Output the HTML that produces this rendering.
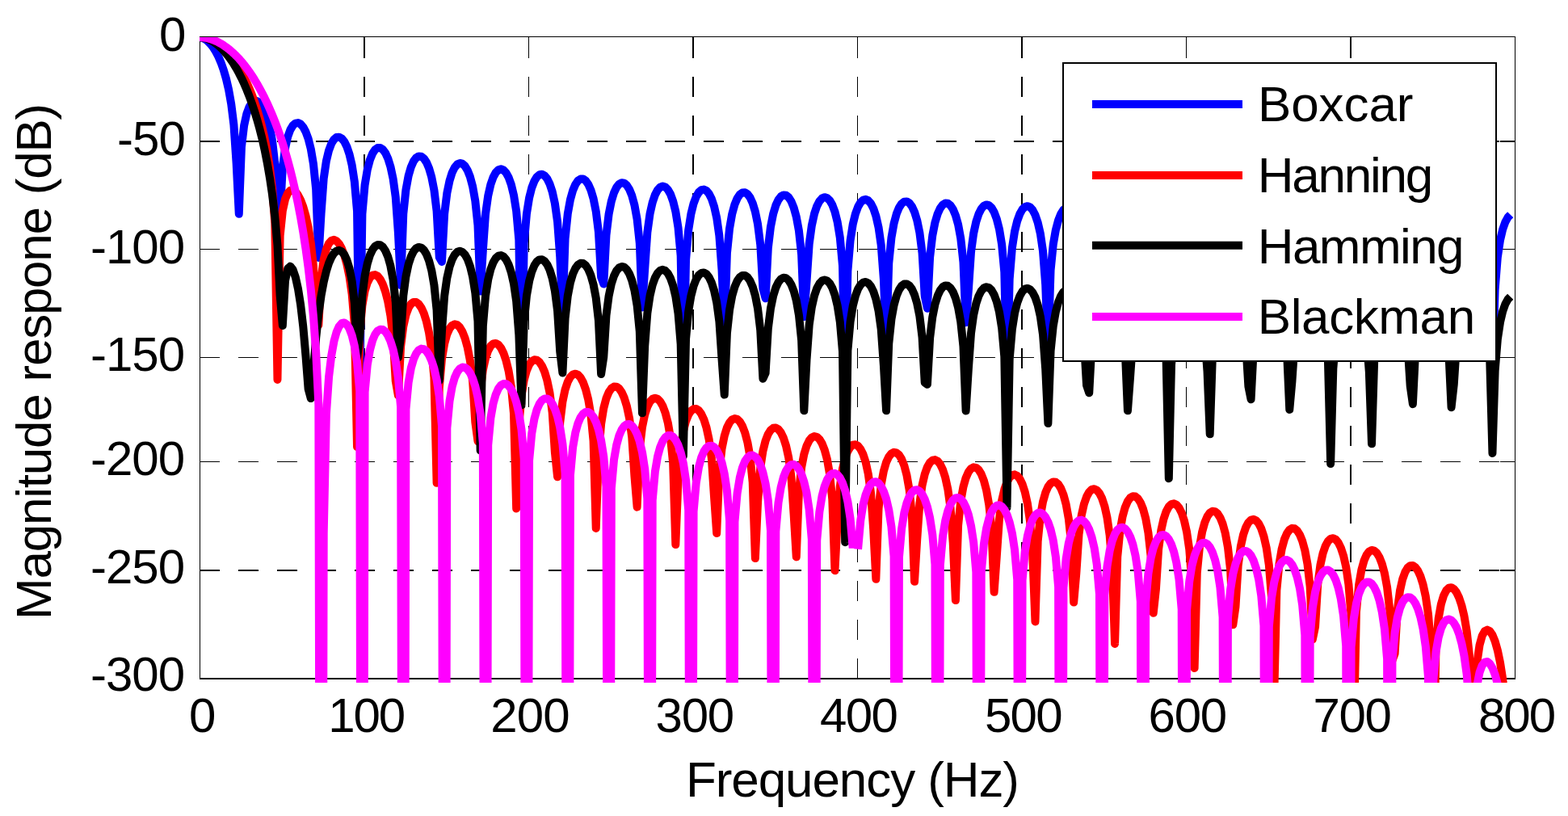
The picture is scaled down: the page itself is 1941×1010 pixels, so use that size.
<!DOCTYPE html>
<html><head><meta charset="utf-8"><title>Magnitude response</title>
<style>html,body{margin:0;padding:0;background:#fff;width:1941px;height:1010px;overflow:hidden}svg{display:block}</style>
</head><body>
<svg width="1941" height="1010" viewBox="0 0 1941 1010">
<defs><clipPath id="c"><rect x="247" y="46" width="1633" height="799"/></clipPath></defs>
<rect x="0" y="0" width="1941" height="1010" fill="#fff"/>
<g stroke="#000" stroke-dasharray="25 23" fill="none">
<line x1="451" y1="47" x2="451" y2="841" stroke-width="2"/>
<line x1="654.5" y1="47" x2="654.5" y2="841" stroke-width="1"/>
<line x1="858" y1="47" x2="858" y2="841" stroke-width="2"/>
<line x1="1061.5" y1="47" x2="1061.5" y2="841" stroke-width="1"/>
<line x1="1265" y1="47" x2="1265" y2="841" stroke-width="2"/>
<line x1="1468.5" y1="47" x2="1468.5" y2="841" stroke-width="1"/>
<line x1="1672" y1="47" x2="1672" y2="841" stroke-width="2"/>
<line x1="247" y1="175" x2="1876" y2="175" stroke-width="2"/>
<line x1="247" y1="308.5" x2="1876" y2="308.5" stroke-width="1"/>
<line x1="247" y1="442.5" x2="1876" y2="442.5" stroke-width="1"/>
<line x1="247" y1="571.5" x2="1876" y2="571.5" stroke-width="1"/>
<line x1="247" y1="706" x2="1876" y2="706" stroke-width="2"/>
</g>
<g stroke="#000" fill="none">
<line x1="1857" y1="175" x2="1875" y2="175" stroke-width="2"/>
<line x1="247" y1="175" x2="265" y2="175" stroke-width="2"/>
<line x1="1857" y1="308.5" x2="1875" y2="308.5" stroke-width="1"/>
<line x1="247" y1="308.5" x2="265" y2="308.5" stroke-width="1"/>
<line x1="1857" y1="442.5" x2="1875" y2="442.5" stroke-width="1"/>
<line x1="247" y1="442.5" x2="265" y2="442.5" stroke-width="1"/>
<line x1="1857" y1="571.5" x2="1875" y2="571.5" stroke-width="1"/>
<line x1="247" y1="571.5" x2="265" y2="571.5" stroke-width="1"/>
<line x1="1857" y1="706" x2="1875" y2="706" stroke-width="2"/>
<line x1="247" y1="706" x2="265" y2="706" stroke-width="2"/>
<line x1="451" y1="45" x2="451" y2="63" stroke-width="2"/>
<line x1="451" y1="822" x2="451" y2="840" stroke-width="2"/>
<line x1="654.5" y1="45" x2="654.5" y2="63" stroke-width="1"/>
<line x1="654.5" y1="822" x2="654.5" y2="840" stroke-width="1"/>
<line x1="858" y1="45" x2="858" y2="63" stroke-width="2"/>
<line x1="858" y1="822" x2="858" y2="840" stroke-width="2"/>
<line x1="1061.5" y1="45" x2="1061.5" y2="63" stroke-width="1"/>
<line x1="1061.5" y1="822" x2="1061.5" y2="840" stroke-width="1"/>
<line x1="1265" y1="45" x2="1265" y2="63" stroke-width="2"/>
<line x1="1265" y1="822" x2="1265" y2="840" stroke-width="2"/>
<line x1="1468.5" y1="45" x2="1468.5" y2="63" stroke-width="1"/>
<line x1="1468.5" y1="822" x2="1468.5" y2="840" stroke-width="1"/>
<line x1="1672" y1="45" x2="1672" y2="63" stroke-width="2"/>
<line x1="1672" y1="822" x2="1672" y2="840" stroke-width="2"/>
<line x1="247" y1="45.5" x2="1876" y2="45.5" stroke-width="1"/>
<line x1="247" y1="840" x2="1876" y2="840" stroke-width="2"/>
<line x1="247.5" y1="45" x2="247.5" y2="841" stroke-width="1"/>
<line x1="1875.5" y1="45" x2="1875.5" y2="841" stroke-width="1"/>
</g>
<g clip-path="url(#c)" fill="none" stroke-width="10" stroke-linejoin="round" stroke-linecap="butt">
<path d="M244.90,45.80 L248.08,46.14 L251.26,47.18 L254.44,48.93 L257.62,51.41 L260.80,54.68 L263.98,58.81 L267.16,63.87 L270.34,70.01 L273.52,77.40 L276.70,86.33 L279.88,97.25 L283.06,110.92 L286.24,128.81 L289.42,154.45 L292.60,201.68 L295.77,264.71 L298.95,181.87 L302.13,155.32 L305.31,140.97 L308.49,132.39 L311.67,127.43 L314.85,125.15 L318.03,125.07 L321.21,127.00 L324.39,130.92 L327.57,137.00 L330.75,145.64 L333.93,157.63 L337.11,174.71 L340.29,202.23 L343.47,261.38 L346.65,264.71 L349.83,207.84 L353.01,183.46 L356.19,169.35 L359.37,160.62 L362.55,155.31 L365.73,152.59 L368.91,152.08 L372.09,153.62 L375.27,157.24 L378.45,163.14 L381.63,171.78 L384.81,184.40 L387.99,203.15 L391.17,234.23 L394.35,318.89 L397.52,264.71 L400.70,220.97 L403.88,199.38 L407.06,186.17 L410.24,177.69 L413.42,172.57 L416.60,170.02 L419.78,169.63 L422.96,171.31 L426.14,175.10 L429.32,181.46 L432.50,190.85 L435.68,204.45 L438.86,225.03 L442.04,261.42 L445.22,484.66 L448.40,264.71 L451.58,229.16 L454.76,209.96 L457.94,197.87 L461.12,190.06 L464.30,185.30 L467.48,183.01 L470.66,182.92 L473.84,184.95 L477.02,189.23 L480.20,196.06 L483.38,206.15 L486.56,220.93 L489.74,243.91 L492.92,288.16 L496.10,353.09 L499.27,264.71 L502.45,234.84 L505.63,217.68 L508.81,206.66 L511.99,199.52 L515.17,195.26 L518.35,193.39 L521.53,193.68 L524.71,196.11 L527.89,200.84 L531.07,208.27 L534.25,219.20 L537.43,235.40 L540.61,261.47 L543.79,318.41 L546.97,323.89 L550.15,264.71 L553.33,239.05 L556.51,223.64 L559.69,213.61 L562.87,207.14 L566.05,203.40 L569.23,201.97 L572.41,202.69 L575.59,205.57 L578.77,210.82 L581.95,218.92 L585.13,230.84 L588.31,248.75 L591.49,278.84 L594.67,360.57 L597.85,309.76 L601.02,264.71 L604.20,242.33 L607.38,228.42 L610.56,219.31 L613.74,213.50 L616.92,210.27 L620.10,209.31 L623.28,210.48 L626.46,213.84 L629.64,219.67 L632.82,228.52 L636.00,241.58 L639.18,261.55 L642.36,297.07 L645.54,483.69 L648.72,301.12 L651.90,264.71 L655.08,244.95 L658.26,232.38 L661.44,224.12 L664.62,218.94 L667.80,216.23 L670.98,215.74 L674.16,217.38 L677.34,221.27 L680.52,227.72 L683.70,237.41 L686.88,251.76 L690.06,274.23 L693.24,317.59 L696.42,387.04 L699.60,295.20 L702.77,264.71 L705.95,247.13 L709.13,235.74 L712.31,228.27 L715.49,223.69 L718.67,221.50 L721.85,221.49 L725.03,223.62 L728.21,228.06 L731.39,235.18 L734.57,245.80 L737.75,261.65 L740.93,287.24 L744.11,343.01 L747.29,351.56 L750.47,290.84 L753.65,264.71 L756.83,248.96 L760.01,238.64 L763.19,231.91 L766.37,227.92 L769.55,226.24 L772.73,226.72 L775.91,229.36 L779.09,234.37 L782.27,242.22 L785.45,253.87 L788.63,271.47 L791.81,301.07 L794.99,380.43 L798.17,333.47 L801.35,287.47 L804.52,264.71 L807.70,250.54 L810.88,241.19 L814.06,235.16 L817.24,231.73 L820.42,230.56 L823.60,231.53 L826.78,234.69 L829.96,240.31 L833.14,248.95 L836.32,261.77 L839.50,281.44 L842.68,316.44 L845.86,482.06 L849.04,321.83 L852.22,284.77 L855.40,264.71 L858.58,251.91 L861.76,243.45 L864.94,238.08 L868.12,235.20 L871.30,234.54 L874.48,236.01 L877.66,239.72 L880.84,245.99 L884.02,255.49 L887.20,269.62 L890.38,291.79 L893.56,334.49 L896.74,408.81 L899.92,313.50 L903.10,282.55 L906.27,264.71 L909.45,253.13 L912.63,245.49 L915.81,240.75 L918.99,238.41 L922.17,238.25 L925.35,240.23 L928.53,244.51 L931.71,251.47 L934.89,261.92 L938.07,277.55 L941.25,302.82 L944.43,357.54 L947.61,369.30 L950.79,307.15 L953.97,280.68 L957.15,264.71 L960.33,254.22 L963.51,247.34 L966.69,243.21 L969.87,241.40 L973.05,241.74 L976.23,244.24 L979.41,249.12 L982.59,256.82 L985.77,268.31 L988.95,285.69 L992.13,314.94 L995.31,392.10 L998.49,348.96 L1001.67,302.11 L1004.85,279.07 L1008.02,264.71 L1011.20,255.21 L1014.38,249.05 L1017.56,245.49 L1020.74,244.20 L1023.92,245.05 L1027.10,248.09 L1030.28,253.59 L1033.46,262.09 L1036.64,274.74 L1039.82,294.18 L1043.00,328.76 L1046.18,479.74 L1049.36,335.61 L1052.54,297.97 L1055.72,277.67 L1058.90,264.71 L1062.08,256.12 L1065.26,250.62 L1068.44,247.63 L1071.62,246.86 L1074.80,248.22 L1077.98,251.82 L1081.16,257.97 L1084.34,267.33 L1087.52,281.30 L1090.70,303.22 L1093.88,345.32 L1097.06,424.86 L1100.24,325.87 L1103.42,294.47 L1106.60,276.44 L1109.78,264.71 L1112.95,256.95 L1116.13,252.10 L1119.31,249.65 L1122.49,249.39 L1125.67,251.27 L1128.85,255.44 L1132.03,262.29 L1135.21,272.60 L1138.39,288.07 L1141.57,313.07 L1144.75,366.80 L1147.93,381.83 L1151.11,318.29 L1154.29,291.47 L1157.47,275.33 L1160.65,264.71 L1163.83,257.72 L1167.01,253.48 L1170.19,251.57 L1173.37,251.82 L1176.55,254.23 L1179.73,259.00 L1182.91,266.60 L1186.09,277.95 L1189.27,295.15 L1192.45,324.09 L1195.63,399.20 L1198.81,359.81 L1201.99,312.15 L1205.17,288.84 L1208.35,274.33 L1211.53,264.71 L1214.70,258.44 L1217.88,254.80 L1221.06,253.41 L1224.24,254.17 L1227.42,257.12 L1230.60,262.52 L1233.78,270.91 L1236.96,283.43 L1240.14,302.68 L1243.32,336.84 L1246.50,476.69 L1249.68,345.22 L1252.86,307.02 L1256.04,286.52 L1259.22,273.42 L1262.40,264.71 L1265.58,259.13 L1268.76,256.05 L1271.94,255.18 L1275.12,256.46 L1278.30,259.97 L1281.48,266.03 L1284.66,275.28 L1287.84,289.11 L1291.02,310.82 L1294.20,352.32 L1297.38,437.47 L1300.56,334.45 L1303.74,302.64 L1306.92,284.43 L1310.10,272.58 L1313.28,264.71 L1316.45,259.77 L1319.63,257.25 L1322.81,256.90 L1325.99,258.70 L1329.17,262.78 L1332.35,269.54 L1335.53,279.74 L1338.71,295.06 L1341.89,319.82 L1345.07,372.59 L1348.25,390.94 L1351.43,325.97 L1354.61,298.83 L1357.79,282.53 L1360.97,271.80 L1364.15,264.71 L1367.33,260.39 L1370.51,258.40 L1373.69,258.57 L1376.87,260.90 L1380.05,265.59 L1383.23,273.09 L1386.41,284.33 L1389.59,301.37 L1392.77,330.01 L1395.95,403.19 L1399.13,367.46 L1402.31,319.01 L1405.49,295.44 L1408.67,280.79 L1411.85,271.07 L1415.03,264.71 L1418.20,260.98 L1421.38,259.53 L1424.56,260.21 L1427.74,263.08 L1430.92,268.40 L1434.10,276.69 L1437.28,289.09 L1440.46,308.16 L1443.64,341.93 L1446.82,472.85 L1450.00,351.86 L1453.18,313.13 L1456.36,292.41 L1459.54,279.18 L1462.72,270.38 L1465.90,264.71 L1469.08,261.56 L1472.26,260.62 L1475.44,261.82 L1478.62,265.26 L1481.80,271.23 L1484.98,280.39 L1488.16,294.09 L1491.34,315.61 L1494.52,356.52 L1497.70,447.53 L1500.88,340.24 L1504.06,308.04 L1507.24,289.65 L1510.42,277.69 L1513.60,269.73 L1516.78,264.71 L1519.95,262.11 L1523.13,261.69 L1526.31,263.42 L1529.49,267.43 L1532.67,274.10 L1535.85,284.20 L1539.03,299.38 L1542.21,323.91 L1545.39,375.76 L1548.57,397.47 L1551.75,331.02 L1554.93,303.56 L1558.11,287.12 L1561.29,276.28 L1564.47,269.11 L1567.65,264.71 L1570.83,262.65 L1574.01,262.75 L1577.19,265.01 L1580.37,269.62 L1583.55,277.03 L1586.73,288.17 L1589.91,305.06 L1593.09,333.41 L1596.27,404.77 L1599.45,372.64 L1602.63,323.38 L1605.81,299.56 L1608.99,284.77 L1612.17,274.95 L1615.35,268.51 L1618.53,264.71 L1621.70,263.18 L1624.88,263.80 L1628.06,266.60 L1631.24,271.84 L1634.42,280.05 L1637.60,292.34 L1640.78,311.24 L1643.96,344.61 L1647.14,468.16 L1650.32,356.11 L1653.50,316.85 L1656.68,295.92 L1659.86,282.58 L1663.04,273.69 L1666.22,267.94 L1669.40,264.71 L1672.58,263.71 L1675.76,264.84 L1678.94,268.21 L1682.12,274.10 L1685.30,283.17 L1688.48,296.75 L1691.66,318.08 L1694.84,358.43 L1698.02,455.69 L1701.20,343.74 L1704.38,311.15 L1707.56,292.59 L1710.74,280.52 L1713.92,272.47 L1717.10,267.38 L1720.28,264.71 L1723.45,264.23 L1726.63,265.89 L1729.81,269.83 L1732.99,276.42 L1736.17,286.43 L1739.35,301.47 L1742.53,325.77 L1745.71,376.72 L1748.89,401.85 L1752.07,333.84 L1755.25,306.09 L1758.43,289.50 L1761.61,278.56 L1764.79,271.31 L1767.97,266.84 L1771.15,264.71 L1774.33,264.74 L1777.51,266.94 L1780.69,271.48 L1783.87,278.81 L1787.05,289.84 L1790.23,306.58 L1793.41,334.64 L1796.59,404.28 L1799.77,375.68 L1802.95,325.58 L1806.13,301.52 L1809.31,286.61 L1812.49,276.69 L1815.67,270.18 L1818.85,266.31 L1822.03,264.71 L1825.20,265.26 L1828.38,268.00 L1831.56,273.16 L1834.74,281.29 L1837.92,293.47 L1841.10,312.20 L1844.28,345.18 L1847.46,462.48 L1850.64,358.27 L1853.82,318.47 L1857.00,297.34 L1860.18,283.88 L1863.36,274.90 L1866.54,269.08 L1869.72,265.78" stroke="#0000ff" />
<path d="M244.90,45.80 L248.08,45.94 L251.26,46.36 L254.44,47.05 L257.62,48.03 L260.80,49.29 L263.98,50.84 L267.16,52.69 L270.34,54.84 L273.52,57.29 L276.70,60.07 L279.88,63.17 L283.06,66.62 L286.24,70.42 L289.42,74.60 L292.60,79.18 L295.77,84.19 L298.95,89.64 L302.13,95.59 L305.31,102.09 L308.49,109.18 L311.67,116.94 L314.85,125.47 L318.03,134.91 L321.21,145.42 L324.39,157.27 L327.57,170.86 L330.75,187.20 L333.93,207.40 L337.11,234.10 L340.29,276.02 L343.47,469.97 L346.65,291.86 L349.83,261.00 L353.01,246.56 L356.19,239.12 L359.37,235.80 L362.55,235.41 L365.73,237.38 L368.91,241.44 L372.09,247.57 L375.27,255.90 L378.45,266.82 L381.63,281.15 L384.81,300.61 L387.99,329.75 L391.17,388.65 L394.35,402.13 L397.52,344.15 L400.70,321.12 L403.88,308.50 L407.06,301.34 L410.24,297.73 L413.42,296.83 L416.60,298.23 L419.78,301.77 L422.96,307.51 L426.14,315.70 L429.32,326.89 L432.50,342.23 L435.68,364.35 L438.86,401.58 L442.04,553.05 L445.22,413.42 L448.40,378.27 L451.58,360.39 L454.76,349.86 L457.94,343.69 L461.12,340.63 L464.30,340.08 L467.48,341.77 L470.66,345.65 L473.84,351.83 L477.02,360.70 L480.20,373.04 L483.38,390.53 L486.56,417.53 L489.74,471.74 L492.92,489.50 L496.10,429.18 L499.27,404.17 L502.45,389.90 L505.63,381.20 L508.81,376.15 L511.99,373.88 L515.17,373.97 L518.35,376.27 L521.53,380.79 L524.71,387.78 L527.89,397.78 L531.07,411.91 L534.25,432.74 L537.43,467.28 L540.61,597.86 L543.79,479.95 L546.97,444.34 L550.15,425.33 L553.33,413.78 L556.51,406.66 L559.69,402.71 L562.87,401.31 L566.05,402.16 L569.23,405.22 L572.41,410.60 L575.59,418.67 L578.77,430.19 L581.95,446.66 L585.13,471.61 L588.31,522.57 L591.49,546.18 L594.67,483.04 L597.85,457.90 L601.02,443.39 L604.20,434.00 L607.38,428.30 L610.56,425.40 L613.74,424.89 L616.92,426.59 L620.10,430.53 L623.28,436.93 L626.46,446.20 L629.64,459.19 L632.82,478.53 L636.00,511.56 L639.18,629.54 L642.36,526.48 L645.54,489.50 L648.72,470.43 L651.90,458.73 L655.08,451.38 L658.26,447.11 L661.44,445.30 L664.62,445.69 L667.80,448.19 L670.98,452.94 L674.16,460.27 L677.34,470.89 L680.52,486.36 L683.70,510.58 L686.88,559.64 L690.06,590.30 L693.24,523.06 L696.42,497.12 L699.60,482.08 L702.77,472.58 L705.95,466.70 L709.13,463.54 L712.31,462.69 L715.49,463.98 L718.67,467.42 L721.85,473.23 L725.03,481.92 L728.21,494.49 L731.39,513.31 L734.57,545.41 L737.75,653.98 L740.93,562.97 L744.11,524.75 L747.29,505.12 L750.47,493.02 L753.65,485.32 L756.83,480.73 L760.01,478.62 L763.19,478.72 L766.37,480.94 L769.55,485.39 L772.73,492.41 L775.91,502.71 L779.09,517.78 L782.27,541.41 L785.45,589.51 L788.63,627.64 L791.81,555.33 L794.99,528.67 L798.17,513.21 L801.35,503.40 L804.52,497.23 L807.70,493.81 L810.88,492.71 L814.06,493.75 L817.24,496.94 L820.42,502.50 L823.60,510.91 L826.78,523.17 L829.96,541.57 L833.14,572.90 L836.32,673.99 L839.50,594.18 L842.68,553.84 L845.86,533.72 L849.04,521.30 L852.22,513.33 L855.40,508.50 L858.58,506.18 L861.76,506.06 L864.94,508.06 L868.12,512.30 L871.30,519.09 L874.48,529.12 L877.66,543.87 L880.84,566.99 L884.02,614.60 L887.20,660.08 L890.38,583.01 L893.56,555.23 L896.74,539.41 L899.92,529.33 L903.10,522.94 L906.27,519.32 L909.45,518.03 L912.63,518.88 L915.81,521.88 L918.99,527.25 L922.17,535.44 L925.35,547.44 L928.53,565.47 L931.71,597.06 L934.89,691.07 L938.07,621.45 L941.25,579.08 L944.43,558.22 L947.61,545.51 L950.79,537.33 L953.97,532.31 L957.15,529.81 L960.33,529.52 L963.51,531.36 L966.69,535.42 L969.87,542.02 L973.05,551.84 L976.23,566.31 L979.41,589.71 L982.59,636.06 L985.77,689.38 L988.95,607.79 L992.13,578.62 L995.31,562.21 L998.49,551.90 L1001.67,545.32 L1004.85,541.54 L1008.02,540.09 L1011.20,540.79 L1014.38,543.64 L1017.56,548.84 L1020.74,556.85 L1023.92,568.63 L1027.10,586.96 L1030.28,618.11 L1033.46,706.16 L1036.64,645.73 L1039.82,602.06 L1043.00,580.18 L1046.18,566.89 L1049.36,558.52 L1052.54,553.34 L1055.72,550.69 L1058.90,550.26 L1062.08,551.96 L1065.26,555.88 L1068.44,562.33 L1071.62,571.97 L1074.80,586.80 L1077.98,610.00 L1081.16,655.00 L1084.34,716.72 L1087.52,630.03 L1090.70,600.20 L1093.88,583.06 L1097.06,572.11 L1100.24,565.36 L1103.42,561.43 L1106.60,559.85 L1109.78,560.43 L1112.95,563.15 L1116.13,568.22 L1119.31,576.25 L1122.49,588.33 L1125.67,606.49 L1128.85,636.99 L1132.03,719.87 L1135.21,667.94 L1138.39,622.93 L1141.57,600.64 L1144.75,586.89 L1147.93,577.99 L1151.11,572.45 L1154.29,569.65 L1157.47,569.11 L1160.65,570.69 L1163.83,574.61 L1167.01,581.19 L1170.19,591.08 L1173.37,605.68 L1176.55,628.47 L1179.73,672.21 L1182.91,743.06 L1186.09,650.55 L1189.27,620.05 L1192.45,602.62 L1195.63,591.47 L1198.81,584.31 L1201.99,580.09 L1205.17,578.33 L1208.35,578.83 L1211.53,581.56 L1214.70,586.72 L1217.88,594.77 L1221.06,606.67 L1224.24,624.55 L1227.42,654.44 L1230.60,732.81 L1233.78,688.83 L1236.96,642.42 L1240.14,619.72 L1243.32,605.75 L1246.50,596.70 L1249.68,591.04 L1252.86,588.05 L1256.04,587.38 L1259.22,588.94 L1262.40,592.79 L1265.58,599.26 L1268.76,609.01 L1271.94,623.40 L1275.12,645.83 L1278.30,688.39 L1281.48,769.41 L1284.66,670.02 L1287.84,638.86 L1291.02,621.15 L1294.20,609.84 L1297.38,602.55 L1300.56,598.23 L1303.74,596.38 L1306.92,596.79 L1310.10,599.43 L1313.28,604.50 L1316.45,612.43 L1319.63,624.18 L1322.81,641.81 L1325.99,671.13 L1329.17,745.52 L1332.35,709.06 L1335.53,661.21 L1338.71,638.11 L1341.89,623.95 L1345.07,614.77 L1348.25,609.01 L1351.43,605.93 L1354.61,605.19 L1357.79,606.67 L1360.97,610.45 L1364.15,616.83 L1367.33,626.45 L1370.51,640.67 L1373.69,662.76 L1376.87,704.23 L1380.05,796.89 L1383.23,689.17 L1386.41,657.34 L1389.59,639.38 L1392.77,627.92 L1395.95,620.53 L1399.13,616.14 L1402.31,614.23 L1405.49,614.57 L1408.67,617.16 L1411.85,622.15 L1415.03,630.00 L1418.20,641.62 L1421.38,659.03 L1424.56,687.83 L1427.74,758.69 L1430.92,729.38 L1434.10,680.09 L1437.28,656.61 L1440.46,642.27 L1443.64,632.99 L1446.82,627.16 L1450.00,624.03 L1453.18,623.25 L1456.36,624.69 L1459.54,628.42 L1462.72,634.74 L1465.90,644.28 L1469.08,658.36 L1472.26,680.14 L1475.44,720.56 L1478.62,827.07 L1481.80,708.90 L1484.98,676.42 L1488.16,658.22 L1491.34,646.65 L1494.52,639.20 L1497.70,634.78 L1500.88,632.84 L1504.06,633.16 L1507.24,635.73 L1510.42,640.69 L1513.60,648.50 L1516.78,660.04 L1519.95,677.28 L1523.13,705.61 L1526.31,773.33 L1529.49,750.96 L1532.67,700.17 L1535.85,676.35 L1539.03,661.88 L1542.21,652.55 L1545.39,646.70 L1548.57,643.57 L1551.75,642.79 L1554.93,644.24 L1558.11,647.98 L1561.29,654.30 L1564.47,663.81 L1567.65,677.81 L1570.83,699.36 L1574.01,738.82 L1577.19,862.64 L1580.37,730.59 L1583.55,697.57 L1586.73,679.21 L1589.91,667.59 L1593.09,660.15 L1596.27,655.75 L1599.45,653.86 L1602.63,654.24 L1605.81,656.86 L1608.99,661.88 L1612.17,669.72 L1615.35,681.26 L1618.53,698.41 L1621.70,726.31 L1624.88,791.34 L1628.06,775.82 L1631.24,723.45 L1634.42,699.44 L1637.60,684.94 L1640.78,675.65 L1643.96,669.89 L1647.14,666.87 L1650.32,666.21 L1653.50,667.78 L1656.68,671.65 L1659.86,678.09 L1663.04,687.70 L1666.22,701.75 L1669.40,723.16 L1672.58,761.88 L1675.76,909.41 L1678.94,757.37 L1682.12,723.89 L1685.30,705.57 L1688.48,694.08 L1691.66,686.81 L1694.84,682.63 L1698.02,680.97 L1701.20,681.59 L1704.38,684.47 L1707.56,689.74 L1710.74,697.84 L1713.92,709.59 L1717.10,726.84 L1720.28,754.61 L1723.45,817.45 L1726.63,808.93 L1729.81,755.11 L1732.99,731.15 L1736.17,716.97 L1739.35,708.08 L1742.53,702.74 L1745.71,700.17 L1748.89,700.00 L1752.07,702.09 L1755.25,706.49 L1758.43,713.45 L1761.61,723.58 L1764.79,738.11 L1767.97,759.92 L1771.15,798.51 L1774.33,985.68 L1777.51,798.85 L1780.69,765.48 L1783.87,747.82 L1787.05,737.20 L1790.23,730.91 L1793.41,727.76 L1796.59,727.22 L1799.77,729.03 L1802.95,733.16 L1806.13,739.77 L1809.31,749.28 L1812.49,762.52 L1815.67,781.32 L1818.85,810.54 L1822.03,873.08 L1825.20,873.32 L1828.38,819.96 L1831.56,798.28 L1834.74,786.91 L1837.92,781.25 L1841.10,779.61 L1844.28,781.26 L1847.46,785.93 L1850.64,793.67 L1853.82,804.78 L1857.00,819.92 L1860.18,840.35 L1863.36,868.53 L1866.54,910.14 L1869.72,983.34" stroke="#ff0000" />
<path d="M244.90,45.80 L248.08,45.96 L251.26,46.45 L254.44,47.27 L257.62,48.41 L260.80,49.89 L263.98,51.70 L267.16,53.86 L270.34,56.37 L273.52,59.23 L276.70,62.47 L279.88,66.08 L283.06,70.09 L286.24,74.51 L289.42,79.35 L292.60,84.65 L295.77,90.41 L298.95,96.68 L302.13,103.49 L305.31,110.88 L308.49,118.90 L311.67,127.61 L314.85,137.09 L318.03,147.43 L321.21,158.76 L324.39,171.24 L327.57,185.40 L330.75,201.46 L333.93,219.81 L337.11,241.36 L340.29,267.85 L343.47,303.56 L346.65,366.19 L349.83,402.92 L353.01,347.36 L356.19,332.52 L359.37,329.62 L362.55,333.55 L365.73,342.78 L368.91,357.08 L372.09,377.03 L375.27,404.07 L378.45,440.25 L381.63,481.40 L384.81,493.11 L387.99,457.14 L391.17,418.59 L394.35,388.71 L397.52,366.19 L400.70,349.00 L403.88,335.81 L407.06,325.80 L410.24,318.45 L413.42,313.44 L416.60,310.58 L419.78,309.82 L422.96,311.23 L426.14,315.02 L429.32,321.65 L432.50,332.04 L435.68,348.16 L438.86,375.45 L442.04,443.05 L445.22,417.47 L448.40,366.19 L451.58,341.56 L454.76,326.18 L457.94,315.88 L461.12,309.03 L464.30,304.85 L467.48,302.96 L470.66,303.18 L473.84,305.54 L477.02,310.24 L480.20,317.74 L483.38,328.95 L486.56,345.84 L489.74,373.88 L492.92,442.50 L496.10,416.72 L499.27,366.19 L502.45,342.14 L505.63,327.28 L508.81,317.47 L511.99,311.08 L515.17,307.34 L518.35,305.89 L521.53,306.56 L524.71,309.39 L527.89,314.61 L531.07,322.72 L534.25,334.72 L537.43,352.87 L540.61,383.71 L543.79,471.04 L546.97,409.86 L550.15,366.19 L553.33,344.05 L556.51,330.18 L559.69,321.03 L562.87,315.16 L566.05,311.86 L569.23,310.81 L572.41,311.89 L575.59,315.17 L578.77,320.91 L581.95,329.66 L585.13,342.60 L588.31,362.41 L591.49,397.53 L594.67,557.59 L597.85,403.34 L601.02,366.19 L604.20,346.10 L607.38,333.31 L610.56,324.87 L613.74,319.53 L616.92,316.69 L620.10,316.07 L623.28,317.57 L626.46,321.31 L629.64,327.60 L632.82,337.08 L636.00,351.13 L639.18,373.02 L642.36,414.38 L645.54,501.43 L648.72,398.04 L651.90,366.19 L655.08,348.02 L658.26,336.28 L661.44,328.55 L664.62,323.75 L667.80,321.38 L670.98,321.19 L674.16,323.14 L677.34,327.38 L680.52,334.27 L683.70,344.57 L686.88,359.91 L690.06,384.42 L693.24,435.27 L696.42,461.55 L699.60,393.81 L702.77,366.19 L705.95,349.75 L709.13,339.00 L712.31,331.96 L715.49,327.71 L718.67,325.81 L721.85,326.07 L725.03,328.49 L728.21,333.25 L731.39,340.79 L734.57,352.01 L737.75,368.87 L740.93,396.72 L744.11,462.97 L747.29,441.78 L750.47,390.40 L753.65,366.19 L756.83,351.29 L760.01,341.47 L763.19,335.09 L766.37,331.38 L769.55,329.95 L772.73,330.68 L775.91,333.58 L779.09,338.91 L782.27,347.17 L785.45,359.42 L788.63,378.08 L791.81,410.29 L794.99,511.33 L798.17,428.73 L801.35,387.61 L804.52,366.19 L807.70,352.66 L810.88,343.72 L814.06,337.98 L817.24,334.79 L820.42,333.85 L823.60,335.04 L826.78,338.46 L829.96,344.38 L833.14,353.42 L836.32,366.85 L839.50,387.65 L842.68,425.81 L845.86,564.52 L849.04,419.45 L852.22,385.29 L855.40,366.19 L858.58,353.90 L861.76,345.76 L864.94,340.64 L868.12,337.98 L871.30,337.51 L874.48,339.19 L877.66,343.14 L880.84,349.70 L884.02,359.60 L887.20,374.36 L890.38,397.77 L893.56,444.56 L896.74,488.62 L899.92,412.42 L903.10,383.32 L906.27,366.19 L909.45,355.01 L912.63,347.64 L915.81,343.11 L918.99,340.96 L922.17,340.98 L925.35,343.16 L928.53,347.66 L931.71,354.91 L934.89,365.76 L938.07,382.05 L941.25,408.72 L944.43,468.74 L947.61,461.69 L950.79,406.86 L953.97,381.62 L957.15,366.19 L960.33,356.02 L963.51,349.37 L966.69,345.42 L969.87,343.78 L973.05,344.29 L976.23,346.98 L979.41,352.06 L982.59,360.05 L985.77,371.94 L988.95,390.02 L992.13,420.90 L995.31,508.37 L998.49,445.63 L1001.67,402.31 L1004.85,380.14 L1008.02,366.19 L1011.20,356.95 L1014.38,350.98 L1017.56,347.58 L1020.74,346.45 L1023.92,347.45 L1027.10,350.67 L1030.28,356.37 L1033.46,365.15 L1036.64,378.22 L1039.82,398.42 L1043.00,434.96 L1046.18,671.17 L1049.36,434.11 L1052.54,398.49 L1055.72,378.83 L1058.90,366.19 L1062.08,357.81 L1065.26,352.48 L1068.44,349.63 L1071.62,348.99 L1074.80,350.50 L1077.98,354.26 L1081.16,360.62 L1084.34,370.26 L1087.52,384.66 L1090.70,407.42 L1093.88,451.75 L1097.06,508.33 L1100.24,425.33 L1103.42,395.23 L1106.60,377.66 L1109.78,366.19 L1112.95,358.60 L1116.13,353.89 L1119.31,351.58 L1122.49,351.44 L1125.67,353.45 L1128.85,357.79 L1132.03,364.83 L1135.21,375.43 L1138.39,391.35 L1141.57,417.28 L1144.75,473.69 L1147.93,475.83 L1151.11,418.35 L1154.29,392.39 L1157.47,376.60 L1160.65,366.19 L1163.83,359.35 L1167.01,355.23 L1170.19,353.44 L1173.37,353.80 L1176.55,356.34 L1179.73,361.26 L1182.91,369.05 L1186.09,380.69 L1189.27,398.38 L1192.45,428.37 L1195.63,508.49 L1198.81,457.27 L1201.99,412.61 L1205.17,389.89 L1208.35,375.64 L1211.53,366.19 L1214.70,360.05 L1217.88,356.50 L1221.06,355.22 L1224.24,356.09 L1227.42,359.16 L1230.60,364.71 L1233.78,373.30 L1236.96,386.11 L1240.14,405.87 L1243.32,441.29 L1246.50,628.45 L1249.68,444.46 L1252.86,407.75 L1256.04,387.66 L1259.22,374.76 L1262.40,366.19 L1265.58,360.71 L1268.76,357.72 L1271.94,356.95 L1275.12,358.33 L1278.30,361.95 L1281.48,368.15 L1284.66,377.61 L1287.84,391.73 L1291.02,414.00 L1294.20,456.60 L1297.38,524.01 L1300.56,434.47 L1303.74,403.56 L1306.92,385.64 L1310.10,373.95 L1313.28,366.19 L1316.45,361.34 L1319.63,358.89 L1322.81,358.63 L1325.99,360.52 L1329.17,364.72 L1332.35,371.62 L1335.53,382.01 L1338.71,397.64 L1341.89,423.01 L1345.07,476.84 L1348.25,486.35 L1351.43,426.44 L1354.61,399.88 L1357.79,383.80 L1360.97,373.19 L1364.15,366.19 L1367.33,361.94 L1370.51,360.03 L1373.69,360.27 L1376.87,362.69 L1380.05,367.48 L1383.23,375.12 L1386.41,386.56 L1389.59,403.93 L1392.77,433.22 L1395.95,508.26 L1399.13,465.70 L1402.31,419.79 L1405.49,396.60 L1408.67,382.10 L1411.85,372.48 L1415.03,366.19 L1418.20,362.53 L1421.38,361.13 L1424.56,361.88 L1427.74,364.84 L1430.92,370.25 L1434.10,378.69 L1437.28,391.29 L1440.46,410.70 L1443.64,445.13 L1446.82,592.32 L1450.00,451.57 L1453.18,414.12 L1456.36,393.64 L1459.54,380.53 L1462.72,371.80 L1465.90,366.19 L1469.08,363.09 L1472.26,362.21 L1475.44,363.47 L1478.62,366.98 L1481.80,373.05 L1484.98,382.35 L1488.16,396.25 L1491.34,418.11 L1494.52,459.34 L1497.70,537.31 L1500.88,440.81 L1504.06,409.18 L1507.24,390.95 L1510.42,379.06 L1513.60,371.16 L1516.78,366.19 L1519.95,363.64 L1523.13,363.27 L1526.31,365.05 L1529.49,369.13 L1532.67,375.90 L1535.85,386.13 L1539.03,401.51 L1542.21,426.39 L1545.39,478.17 L1548.57,494.26 L1551.75,431.91 L1554.93,404.81 L1558.11,388.46 L1561.29,377.68 L1564.47,370.55 L1567.65,366.19 L1570.83,364.17 L1574.01,364.31 L1577.19,366.62 L1580.37,371.30 L1583.55,378.80 L1586.73,390.07 L1589.91,407.16 L1593.09,435.86 L1596.27,506.94 L1599.45,471.69 L1602.63,424.49 L1605.81,400.88 L1608.99,386.16 L1612.17,376.37 L1615.35,369.97 L1618.53,366.19 L1621.70,364.70 L1624.88,365.35 L1628.06,368.20 L1631.24,373.50 L1634.42,381.79 L1637.60,394.20 L1640.78,413.30 L1643.96,446.88 L1647.14,574.11 L1650.32,456.37 L1653.50,418.13 L1656.68,397.31 L1659.86,384.00 L1663.04,375.13 L1666.22,369.40 L1669.40,366.19 L1672.58,365.21 L1675.76,366.38 L1678.94,369.78 L1682.12,375.74 L1685.30,384.89 L1688.48,398.58 L1691.66,420.08 L1694.84,460.17 L1698.02,549.32 L1701.20,444.79 L1704.38,412.55 L1707.56,394.02 L1710.74,381.96 L1713.92,373.93 L1717.10,368.85 L1720.28,366.19 L1723.45,365.73 L1726.63,367.41 L1729.81,371.39 L1732.99,378.03 L1736.17,388.11 L1739.35,403.27 L1742.53,427.71 L1745.71,477.77 L1748.89,500.13 L1752.07,435.19 L1755.25,407.57 L1758.43,390.97 L1761.61,380.03 L1764.79,372.78 L1767.97,368.31 L1771.15,366.19 L1774.33,366.24 L1777.51,368.45 L1780.69,373.02 L1783.87,380.40 L1787.05,391.50 L1790.23,408.34 L1793.41,436.49 L1796.59,504.29 L1799.77,475.64 L1802.95,427.08 L1806.13,403.06 L1809.31,388.12 L1812.49,378.19 L1815.67,371.66 L1818.85,367.78 L1822.03,366.19 L1825.20,366.75 L1828.38,369.50 L1831.56,374.69 L1834.74,382.86 L1837.92,395.09 L1841.10,413.90 L1844.28,446.76 L1847.46,561.06 L1850.64,459.19 L1853.82,420.08 L1857.00,398.92 L1860.18,385.42 L1863.36,376.41 L1866.54,370.57 L1869.72,367.26" stroke="#000000" />
<path d="M244.90,45.80 L248.08,45.90 L251.26,46.21 L254.44,46.72 L257.62,47.43 L260.80,48.35 L263.98,49.47 L267.16,50.81 L270.34,52.35 L273.52,54.11 L276.70,56.09 L279.88,58.28 L283.06,60.70 L286.24,63.34 L289.42,66.21 L292.60,69.32 L295.77,72.67 L298.95,76.27 L302.13,80.13 L305.31,84.25 L308.49,88.64 L311.67,93.31 L314.85,98.27 L318.03,103.54 L321.21,109.13 L324.39,115.04 L327.57,121.31 L330.75,127.95 L333.93,134.98 L337.11,142.43 L340.29,150.33 L343.47,158.70 L346.65,167.60 L349.83,177.12 L353.01,187.52 L356.19,198.64 L359.37,210.55 L362.55,223.37 L365.73,237.23 L368.91,252.31 L372.09,268.83 L375.27,287.12 L378.45,307.62 L381.63,331.13 L384.81,358.68 L387.99,392.28 L391.17,436.19 L394.35,500.51 L397.52,2040.79 L400.70,660.34 L403.88,512.66 L407.06,466.66 L410.24,440.14 L413.42,422.54 L416.60,411.04 L419.78,403.89 L422.96,400.19 L426.14,399.48 L429.32,401.61 L432.50,406.70 L435.68,415.21 L438.86,428.29 L442.04,448.45 L445.22,483.79 L448.40,2045.80 L451.58,485.39 L454.76,451.60 L457.94,433.07 L461.12,421.33 L464.30,413.90 L467.48,409.55 L470.66,407.70 L473.84,408.05 L477.02,410.51 L480.20,415.16 L483.38,422.27 L486.56,432.44 L489.74,446.71 L492.92,467.40 L496.10,503.62 L499.27,1985.34 L502.45,506.56 L505.63,473.26 L508.81,455.50 L511.99,444.52 L515.17,437.43 L518.35,433.30 L521.53,431.62 L524.71,432.09 L527.89,434.64 L531.07,439.35 L534.25,446.36 L537.43,456.15 L540.61,470.02 L543.79,490.68 L546.97,526.86 L550.15,2008.28 L553.33,529.67 L556.51,496.29 L559.69,478.44 L562.87,467.37 L566.05,460.37 L569.23,456.29 L572.41,454.56 L575.59,454.90 L578.77,457.23 L581.95,461.64 L585.13,468.39 L588.31,478.06 L591.49,491.80 L594.67,512.33 L597.85,548.37 L601.02,2006.09 L604.20,550.91 L607.38,517.40 L610.56,499.41 L613.74,488.21 L616.92,481.08 L620.10,476.86 L623.28,474.99 L626.46,475.20 L629.64,477.40 L632.82,481.67 L636.00,488.29 L639.18,497.83 L642.36,511.44 L645.54,531.84 L648.72,567.75 L651.90,1941.92 L655.08,570.04 L658.26,536.40 L661.44,518.29 L664.62,506.96 L667.80,499.71 L670.98,495.37 L674.16,493.38 L677.34,493.47 L680.52,495.55 L683.70,499.71 L686.88,506.21 L690.06,515.63 L693.24,529.13 L696.42,549.42 L699.60,585.80 L702.77,1990.97 L705.95,587.95 L709.13,553.55 L712.31,535.33 L715.49,523.89 L718.67,516.54 L721.85,512.10 L725.03,510.01 L728.21,509.99 L731.39,511.97 L734.57,516.03 L737.75,522.44 L740.93,531.77 L744.11,545.17 L747.29,565.36 L750.47,602.32 L753.65,1923.94 L756.83,604.28 L760.01,569.12 L763.19,550.81 L766.37,539.29 L769.55,531.85 L772.73,527.32 L775.91,525.14 L779.09,525.04 L782.27,526.94 L785.45,530.92 L788.63,537.25 L791.81,546.49 L794.99,559.81 L798.17,580.27 L801.35,617.43 L804.52,1992.55 L807.70,619.23 L810.88,583.87 L814.06,565.00 L817.24,553.40 L820.42,545.88 L823.60,541.28 L826.78,539.04 L829.96,538.87 L833.14,540.69 L836.32,544.60 L839.50,550.86 L842.68,560.04 L845.86,573.36 L849.04,594.25 L852.22,631.34 L855.40,1935.96 L858.58,633.01 L861.76,597.58 L864.94,578.35 L868.12,566.42 L871.30,558.85 L874.48,554.19 L877.66,551.88 L880.84,551.65 L884.02,553.42 L887.20,557.27 L890.38,563.47 L893.56,572.62 L896.74,586.38 L899.92,607.22 L903.10,644.25 L906.27,1914.93 L909.45,645.80 L912.63,610.32 L915.81,591.04 L918.99,578.83 L922.17,570.91 L925.35,566.20 L928.53,563.84 L931.71,563.56 L934.89,565.28 L938.07,569.08 L941.25,575.37 L944.43,584.83 L947.61,598.54 L950.79,619.33 L953.97,656.31 L957.15,2024.91 L960.33,657.77 L963.51,622.24 L966.69,602.91 L969.87,590.65 L973.05,582.65 L976.23,577.69 L979.41,575.19 L982.59,574.85 L985.77,576.60 L988.95,580.52 L992.13,586.89 L995.31,596.30 L998.49,609.97 L1001.67,630.72 L1004.85,667.66 L1008.02,1851.98 L1011.20,669.03 L1014.38,633.47 L1017.56,614.09 L1020.74,601.80 L1023.92,593.76 L1027.10,588.76 L1030.28,586.22 L1033.46,585.84 L1036.64,587.56 L1039.82,591.44 L1043.00,597.77 L1046.18,607.15 L1049.36,620.79 L1052.54,641.50 L1055.72,678.40 M1062.08,679.71 L1065.26,644.11 L1068.44,624.70 L1071.62,612.37 L1074.80,604.30 L1077.98,599.27 L1081.16,596.70 L1084.34,596.29 L1087.52,597.98 L1090.70,601.83 L1093.88,608.13 L1097.06,617.48 L1100.24,631.09 L1103.42,651.77 L1106.60,688.64 L1109.78,1956.89 L1112.95,689.89 L1116.13,654.27 L1119.31,634.83 L1122.49,622.48 L1125.67,614.38 L1128.85,609.33 L1132.03,606.73 L1135.21,606.30 L1138.39,607.95 L1141.57,611.78 L1144.75,618.06 L1147.93,627.38 L1151.11,640.97 L1154.29,661.63 L1157.47,698.48 L1160.65,2019.32 L1163.83,699.68 L1167.01,664.04 L1170.19,644.58 L1173.37,632.20 L1176.55,624.08 L1179.73,619.01 L1182.91,616.39 L1186.09,615.94 L1189.27,617.58 L1192.45,621.38 L1195.63,627.64 L1198.81,636.95 L1201.99,650.52 L1205.17,671.16 L1208.35,707.99 L1211.53,1863.63 L1214.70,709.15 L1217.88,673.50 L1221.06,654.03 L1224.24,641.64 L1227.42,633.50 L1230.60,628.41 L1233.78,625.78 L1236.96,625.31 L1240.14,626.94 L1243.32,630.73 L1246.50,636.98 L1249.68,646.27 L1252.86,659.82 L1256.04,680.45 L1259.22,717.24 L1262.40,1863.53 L1265.58,718.38 L1268.76,682.75 L1271.94,663.27 L1275.12,650.87 L1278.30,642.72 L1281.48,637.62 L1284.66,634.98 L1287.84,634.51 L1291.02,636.12 L1294.20,639.91 L1297.38,646.15 L1300.56,655.44 L1303.74,668.98 L1306.92,689.61 L1310.10,726.35 L1313.28,2049.40 L1316.45,727.48 L1319.63,691.88 L1322.81,672.40 L1325.99,659.99 L1329.17,651.84 L1332.35,646.74 L1335.53,644.10 L1338.71,643.62 L1341.89,645.23 L1345.07,649.02 L1348.25,655.26 L1351.43,664.54 L1354.61,678.09 L1357.79,698.72 L1360.97,735.43 L1364.15,1900.45 L1367.33,736.56 L1370.51,701.00 L1373.69,681.52 L1376.87,669.11 L1380.05,660.97 L1383.23,655.87 L1386.41,653.23 L1389.59,652.76 L1392.77,654.38 L1395.95,658.17 L1399.13,664.42 L1402.31,673.71 L1405.49,687.27 L1408.67,707.90 L1411.85,744.59 L1415.03,1906.41 L1418.20,745.74 L1421.38,710.21 L1424.56,690.75 L1427.74,678.36 L1430.92,670.23 L1434.10,665.15 L1437.28,662.52 L1440.46,662.07 L1443.64,663.70 L1446.82,667.51 L1450.00,673.77 L1453.18,683.08 L1456.36,696.66 L1459.54,717.27 L1462.72,753.98 L1465.90,1899.59 L1469.08,755.18 L1472.26,719.67 L1475.44,700.27 L1478.62,687.90 L1481.80,679.79 L1484.98,674.74 L1488.16,672.13 L1491.34,671.71 L1494.52,673.37 L1497.70,677.21 L1500.88,683.50 L1504.06,692.84 L1507.24,706.44 L1510.42,727.05 L1513.60,763.80 L1516.78,1868.62 L1519.95,765.06 L1523.13,729.59 L1526.31,710.25 L1529.49,697.94 L1532.67,689.87 L1535.85,684.86 L1539.03,682.30 L1542.21,681.91 L1545.39,683.62 L1548.57,687.50 L1551.75,693.84 L1554.93,703.24 L1558.11,716.85 L1561.29,737.51 L1564.47,774.31 L1567.65,1956.57 L1570.83,775.69 L1574.01,740.27 L1577.19,720.99 L1580.37,708.77 L1583.55,700.78 L1586.73,695.83 L1589.91,693.34 L1593.09,693.02 L1596.27,694.80 L1599.45,698.76 L1602.63,705.18 L1605.81,714.61 L1608.99,728.30 L1612.17,749.04 L1615.35,785.92 L1618.53,1846.58 L1621.70,787.48 L1624.88,752.16 L1628.06,732.97 L1631.24,720.85 L1634.42,712.98 L1637.60,708.15 L1640.78,705.78 L1643.96,705.57 L1647.14,707.46 L1650.32,711.52 L1653.50,718.04 L1656.68,727.60 L1659.86,741.41 L1663.04,762.29 L1666.22,799.31 L1669.40,1985.27 L1672.58,801.16 L1675.76,765.98 L1678.94,746.96 L1682.12,735.00 L1685.30,727.30 L1688.48,722.64 L1691.66,720.45 L1694.84,720.43 L1698.02,722.51 L1701.20,726.77 L1704.38,733.50 L1707.56,743.27 L1710.74,757.31 L1713.92,778.42 L1717.10,815.68 L1720.28,1875.35 L1723.45,818.05 L1726.63,783.15 L1729.81,764.41 L1732.99,752.74 L1736.17,745.35 L1739.35,741.02 L1742.53,739.16 L1745.71,739.50 L1748.89,741.95 L1752.07,746.60 L1755.25,753.73 L1758.43,763.93 L1761.61,778.41 L1764.79,799.99 L1767.97,837.75 L1771.15,1848.56 L1774.33,841.19 L1777.51,806.88 L1780.69,788.75 L1783.87,777.74 L1787.05,771.04 L1790.23,767.45 L1793.41,766.39 L1796.59,767.57 L1799.77,770.92 L1802.95,776.54 L1806.13,784.71 L1809.31,796.03 L1812.49,811.74 L1815.67,834.64 L1818.85,873.84 L1822.03,1878.79 L1825.20,880.59 L1828.38,848.20 L1831.56,832.21 L1834.74,823.58 L1837.92,819.58 L1841.10,819.05 L1844.28,821.51 L1847.46,826.79 L1850.64,835.00 L1853.82,846.48 L1857.00,861.91 L1860.18,882.56 L1863.36,910.91 L1866.54,952.63 L1869.72,1025.89" stroke="#ff00ff" />
</g>
<g font-family="'Liberation Sans', Arial, Helvetica, sans-serif" fill="#000">
<text x="196.95" y="62.50" font-size="60">0</text>
<text x="145.00" y="191.60" font-size="60" textLength="84.82" lengthAdjust="spacing">-50</text>
<text x="111.90" y="325.50" font-size="60" textLength="117.19" lengthAdjust="spacing">-100</text>
<text x="111.90" y="459.40" font-size="60" textLength="117.19" lengthAdjust="spacing">-150</text>
<text x="111.90" y="588.40" font-size="60" textLength="117.19" lengthAdjust="spacing">-200</text>
<text x="111.90" y="722.40" font-size="60" textLength="117.19" lengthAdjust="spacing">-250</text>
<text x="111.90" y="855.40" font-size="60" textLength="117.19" lengthAdjust="spacing">-300</text>
<text x="234.00" y="906.40" font-size="60">0</text>
<text x="406.20" y="906.40" font-size="60" textLength="96.01" lengthAdjust="spacing">100</text>
<text x="607.20" y="906.40" font-size="60" textLength="98.41" lengthAdjust="spacing">200</text>
<text x="811.60" y="906.40" font-size="60" textLength="97.51" lengthAdjust="spacing">300</text>
<text x="1014.90" y="906.40" font-size="60" textLength="97.01" lengthAdjust="spacing">400</text>
<text x="1218.90" y="906.40" font-size="60" textLength="96.71" lengthAdjust="spacing">500</text>
<text x="1421.60" y="906.40" font-size="60" textLength="97.51" lengthAdjust="spacing">600</text>
<text x="1625.50" y="906.40" font-size="60" textLength="97.41" lengthAdjust="spacing">700</text>
<text x="1829.90" y="906.40" font-size="60" textLength="96.21" lengthAdjust="spacing">800</text>
<text x="848.90" y="985.80" font-size="62" textLength="413.12" lengthAdjust="spacing">Frequency (Hz)</text>
<text transform="translate(63.0,766.90) rotate(-90)" x="0" y="0" font-size="62" textLength="639.17" lengthAdjust="spacing">Magnitude respone (dB)</text>
</g>
<g font-family="'Liberation Sans', Arial, Helvetica, sans-serif" fill="#000">
<rect x="1316" y="78" width="536" height="369" fill="#fff" stroke="#000" stroke-width="2"/>
<line x1="1352" y1="129" x2="1538" y2="129" stroke="#0000ff" stroke-width="10"/>
<text x="1556.90" y="150.00" font-size="62" textLength="192.57" lengthAdjust="spacing">Boxcar</text>
<line x1="1352" y1="217" x2="1538" y2="217" stroke="#ff0000" stroke-width="10"/>
<text x="1556.85" y="237.80" font-size="62" textLength="217.32" lengthAdjust="spacing">Hanning</text>
<line x1="1352" y1="303.8" x2="1538" y2="303.8" stroke="#000000" stroke-width="10"/>
<text x="1556.80" y="326.00" font-size="62" textLength="255.70" lengthAdjust="spacing">Hamming</text>
<line x1="1352" y1="391.9" x2="1538" y2="391.9" stroke="#ff00ff" stroke-width="10"/>
<text x="1556.80" y="413.10" font-size="62" textLength="269.32" lengthAdjust="spacing">Blackman</text>
</g>
</svg>
</body></html>
